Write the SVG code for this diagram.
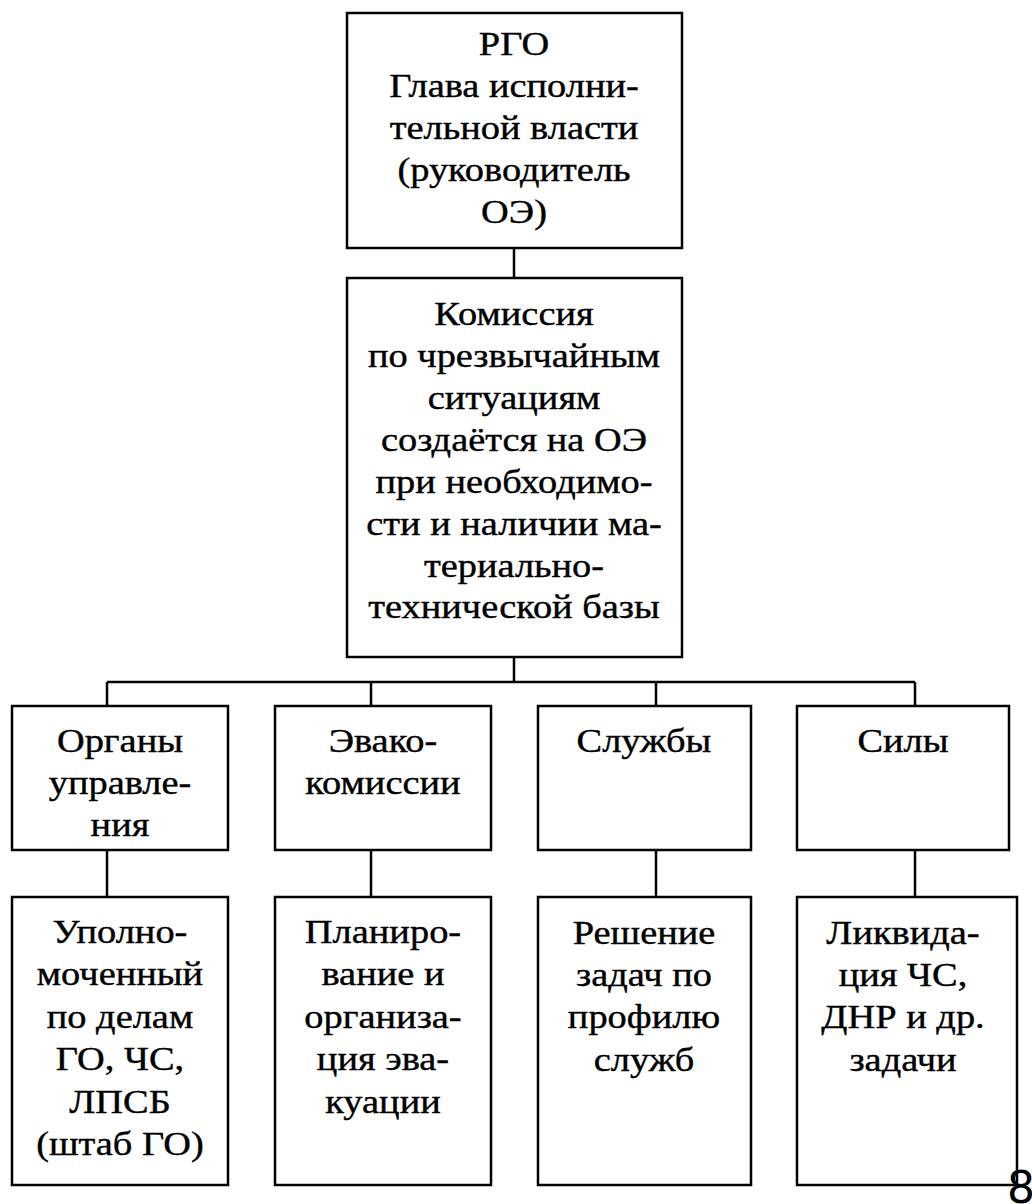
<svg xmlns="http://www.w3.org/2000/svg" width="1032" height="1204" viewBox="0 0 1032 1204">
<style>
.box{fill:#fff;stroke:#000;stroke-width:2.5}
.ln{fill:none;stroke:#000;stroke-width:2.5}
.t text{font-family:'Liberation Serif','Times New Roman','DejaVu Serif',serif;font-size:34px;fill:#000;stroke:#000;stroke-width:0.4;text-anchor:middle}
.num{font-family:'DejaVu Sans','Liberation Sans',sans-serif;font-size:44px;fill:#000;text-anchor:middle}
</style>
<rect width="1032" height="1204" fill="#fff"/>
<g id="connectors">
<path class="ln" d="M514 248V278"/>
<path class="ln" d="M514 657V682M107 682H915M107 682V706M371 682V706M656 682V706M915 682V706"/>
<path class="ln" d="M107 850V897M371 850V897M656 850V897M915 850V897"/>
</g>
<g id="rgo">
<rect class="box" x="347" y="13" width="335" height="235"/>
<g class="t" transform="matrix(1.13 0 0 1 -66.8 0)">
<text x="514" y="55">РГО</text>
<text x="514" y="97">Глава исполни-</text>
<text x="514" y="139">тельной власти</text>
<text x="514" y="181">(руководитель</text>
<text x="514" y="223">ОЭ)</text>
</g>
</g>
<g id="kchs">
<rect class="box" x="347" y="278" width="335" height="379"/>
<g class="t" transform="matrix(1.13 0 0 1 -66.8 0)">
<text x="514" y="325">Комиссия</text>
<text x="514" y="367">по чрезвычайным</text>
<text x="514" y="409">ситуациям</text>
<text x="514" y="451">создаётся на ОЭ</text>
<text x="514" y="493">при необходимо-</text>
<text x="514" y="535">сти и наличии ма-</text>
<text x="514" y="577">териально-</text>
<text x="514" y="618">технической базы</text>
</g>
</g>
<g id="organy">
<rect class="box" x="12" y="706" width="216" height="144"/>
<g class="t" transform="matrix(1.13 0 0 1 -15.6 0)">
<text x="120" y="752">Органы</text>
<text x="120" y="794">управле-</text>
<text x="120" y="836">ния</text>
</g>
</g>
<g id="evako">
<rect class="box" x="275" y="706" width="216" height="144"/>
<g class="t" transform="matrix(1.13 0 0 1 -49.79 0)">
<text x="383" y="752">Эвако-</text>
<text x="383" y="794">комиссии</text>
</g>
</g>
<g id="sluzhby">
<rect class="box" x="538" y="706" width="213" height="144"/>
<g class="t" transform="matrix(1.13 0 0 1 -83.72 0)">
<text x="644" y="752">Службы</text>
</g>
</g>
<g id="sily">
<rect class="box" x="797" y="706" width="212" height="144"/>
<g class="t" transform="matrix(1.13 0 0 1 -117.39 0)">
<text x="903" y="752">Силы</text>
</g>
</g>
<g id="upolnom">
<rect class="box" x="12" y="897" width="216" height="288"/>
<g class="t" transform="matrix(1.13 0 0 1 -15.6 0)">
<text x="120" y="943">Уполно-</text>
<text x="120" y="985">моченный</text>
<text x="120" y="1028">по делам</text>
<text x="120" y="1070">ГО, ЧС,</text>
<text x="120" y="1113">ЛПСБ</text>
<text x="120" y="1155">(штаб ГО)</text>
</g>
</g>
<g id="planir">
<rect class="box" x="275" y="897" width="216" height="288"/>
<g class="t" transform="matrix(1.13 0 0 1 -49.79 0)">
<text x="383" y="943">Планиро-</text>
<text x="383" y="985">вание и</text>
<text x="383" y="1028">организа-</text>
<text x="383" y="1070">ция эва-</text>
<text x="383" y="1113">куации</text>
</g>
</g>
<g id="reshenie">
<rect class="box" x="538" y="897" width="213" height="288"/>
<g class="t" transform="matrix(1.13 0 0 1 -83.72 0)">
<text x="644" y="944">Решение</text>
<text x="644" y="986">задач по</text>
<text x="644" y="1028">профилю</text>
<text x="644" y="1071">служб</text>
</g>
</g>
<g id="likvid">
<rect class="box" x="797" y="897" width="220" height="288"/>
<g class="t" transform="matrix(1.13 0 0 1 -117.39 0)">
<text x="903" y="944">Ликвида-</text>
<text x="903" y="986">ция ЧС,</text>
<text x="903" y="1028">ДНР и др.</text>
<text x="903" y="1071">задачи</text>
</g>
</g>
<text class="num" x="1021" y="1203">8</text>
</svg>
